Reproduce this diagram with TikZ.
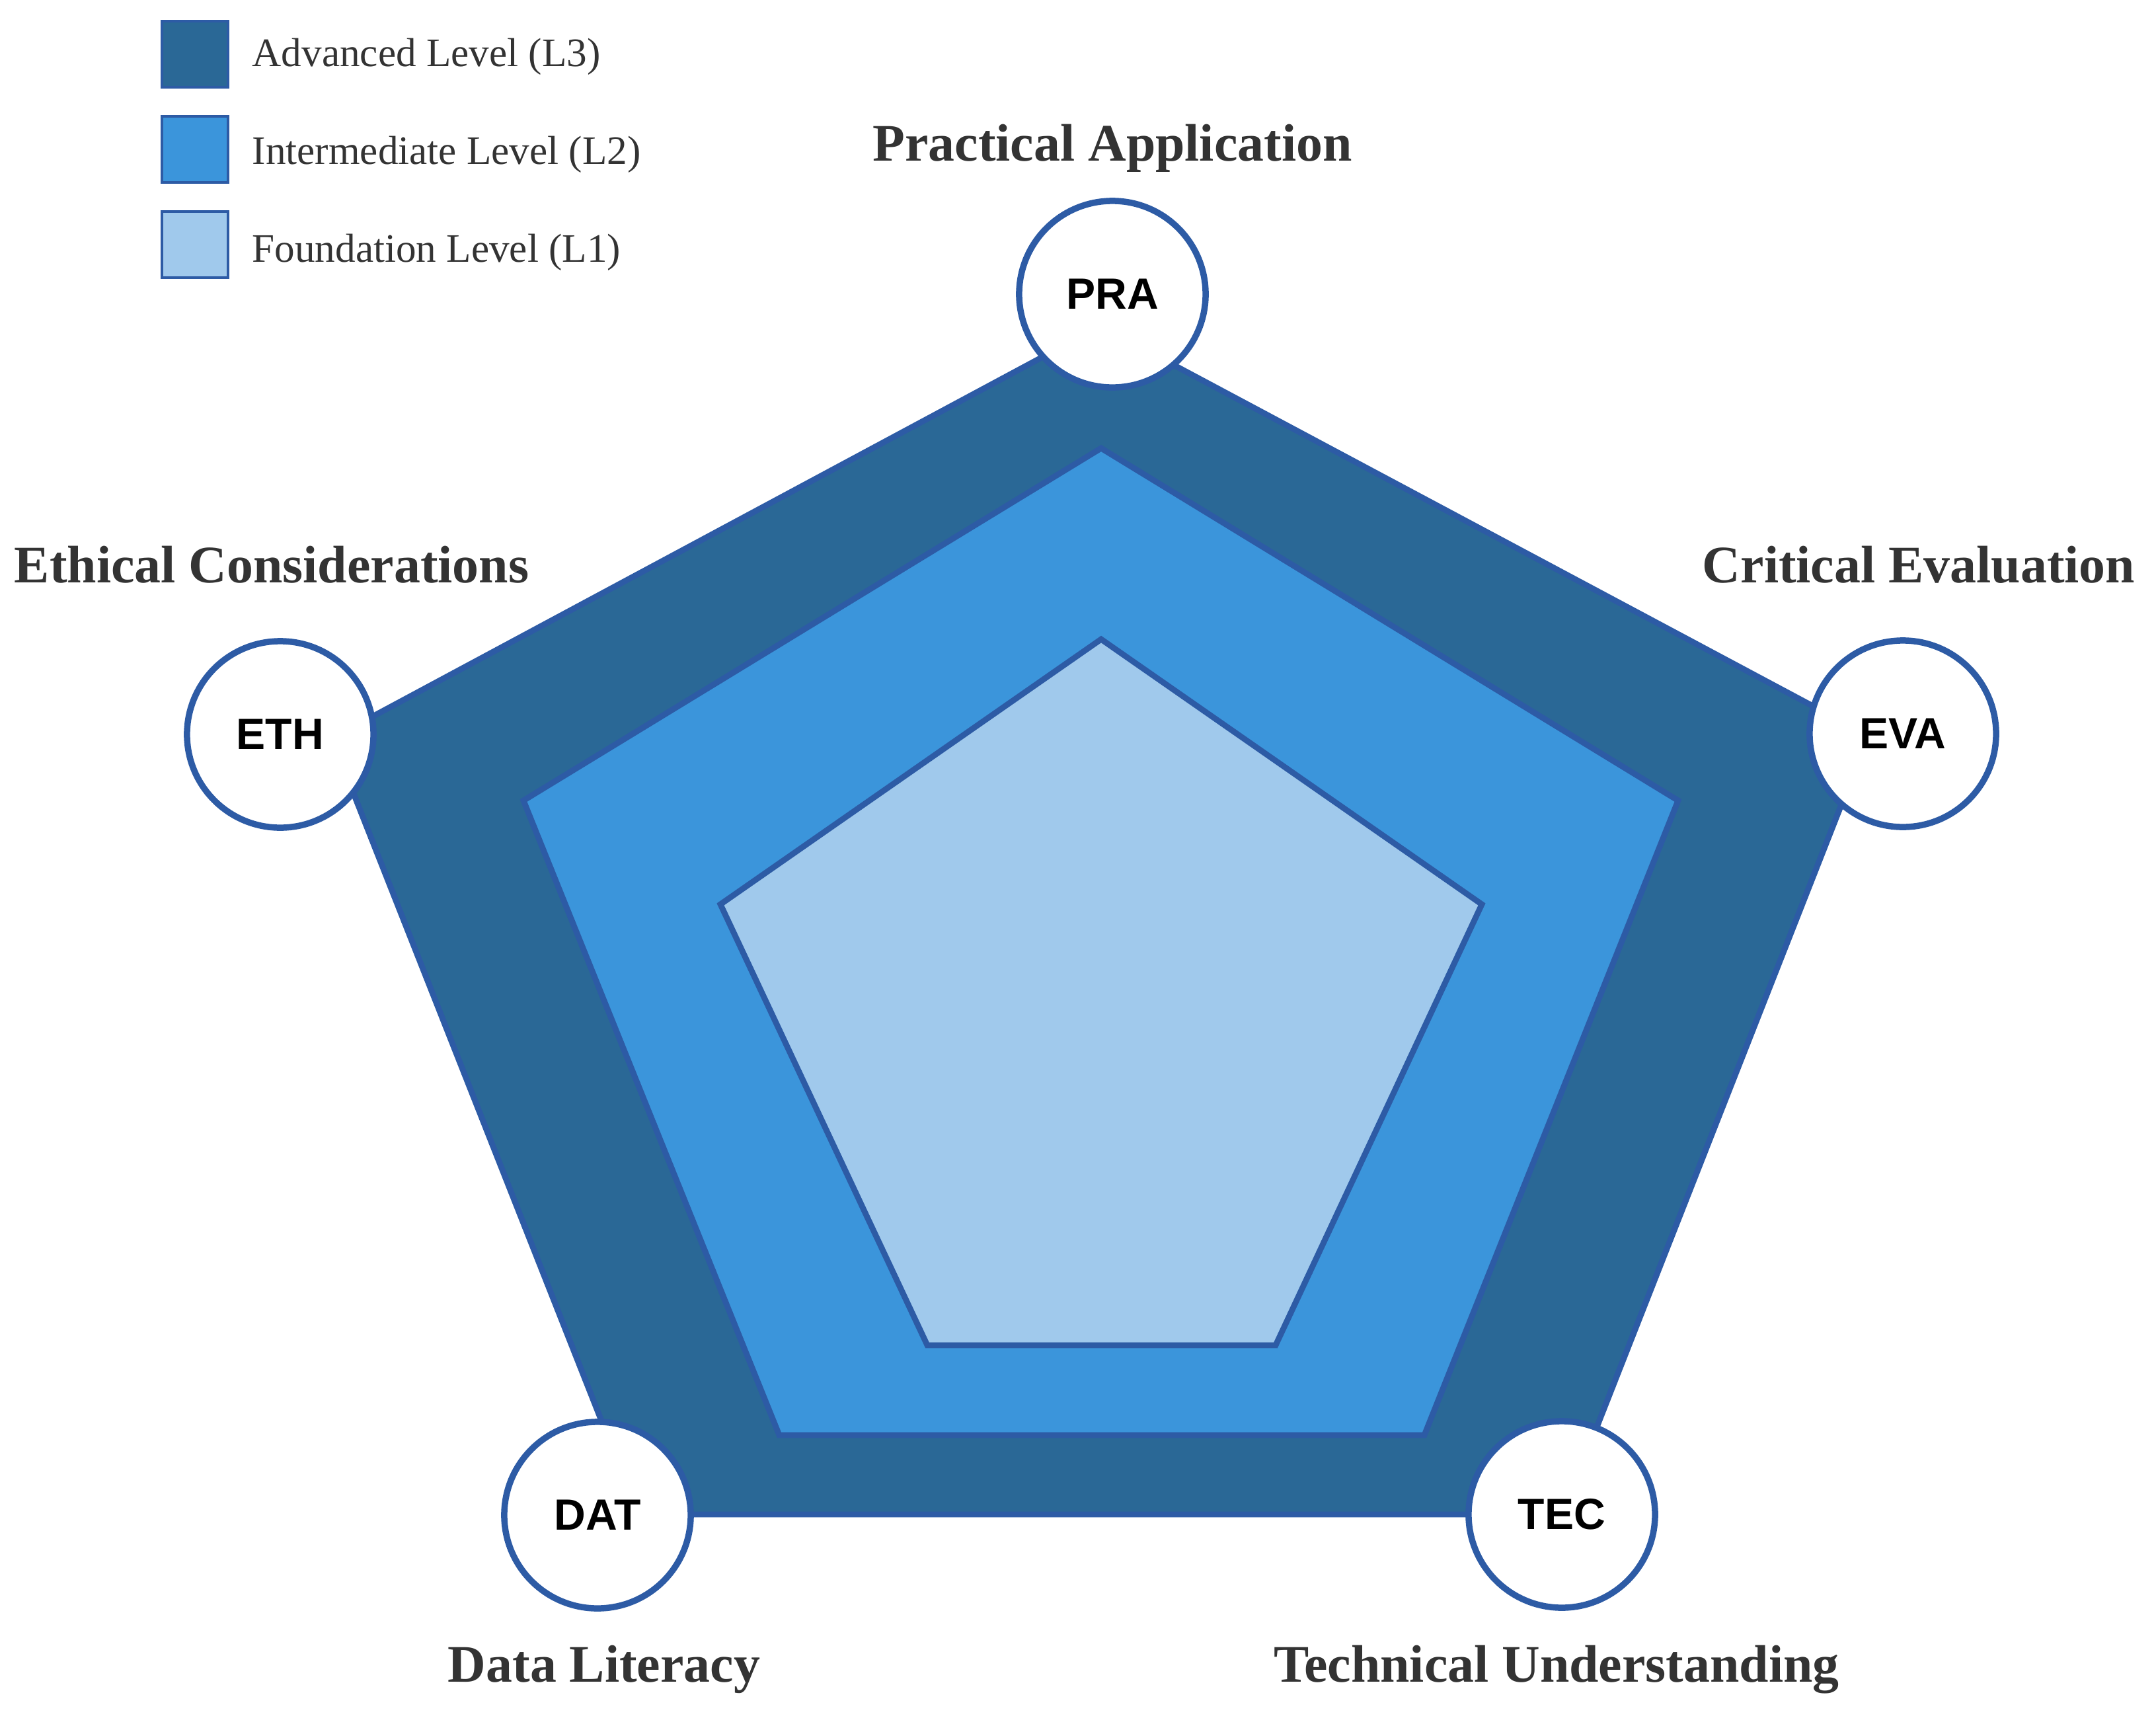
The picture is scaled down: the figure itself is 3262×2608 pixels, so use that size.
\documentclass[tikz,border=0pt]{standalone}
\usepackage{fontspec}
\setmainfont{Liberation Serif}
\newfontfamily\nodesans{Liberation Sans}
\definecolor{lvlthree}{HTML}{2A6896}
\definecolor{lvltwo}{HTML}{3B95DB}
\definecolor{lvlone}{HTML}{A0C9EC}
\definecolor{edgeblue}{HTML}{2D5BA5}
\definecolor{labelgray}{HTML}{333333}
\tikzset{
  levelpoly/.style={draw=edgeblue, line width=2.5pt, line join=miter},
  skill/.style={circle, draw=edgeblue, line width=2.7pt, fill=white, minimum size=2.82cm, inner sep=0pt,
    font=\nodesans\bfseries\fontsize{18.8}{22}\selectfont, text=black},
  axislabel/.style={anchor=base, inner sep=0pt, text=labelgray, font=\bfseries\fontsize{22.7}{27}\selectfont},
  legendbox/.style={draw=edgeblue, line width=1.2pt},
  legendtext/.style={anchor=base west, inner sep=0pt, text=labelgray, font=\fontsize{17.4}{21}\selectfont}
}
\begin{document}
\begin{tikzpicture}[x=0.01cm, y=-0.01cm]
\useasboundingbox (0,0) rectangle (3262,2608);
% level polygons
\draw[levelpoly, fill=lvlthree] (1665,493) -- (2827,1113) -- (2364,2291) -- (966,2291) -- (502,1117) -- cycle;
\draw[levelpoly, fill=lvltwo] (1666,678) -- (2539,1211) -- (2155,2171) -- (1179,2171) -- (792,1211) -- cycle;
\draw[levelpoly, fill=lvlone] (1666,967) -- (2242,1368) -- (1930,2035) -- (1403,2035) -- (1090,1368) -- cycle;
% skill nodes
\node[skill] (pra) at (1683,445) {PRA};
\node[skill] (eva) at (2879,1110) {EVA};
\node[skill] (tec) at (2363,2291) {TEC};
\node[skill] (dat) at (904,2292) {DAT};
\node[skill] (eth) at (424,1111) {ETH};
% axis labels
\node[axislabel] (lpra) at (1683,243) {Practical Application};
\node[axislabel] (leva) at (2903,881) {Critical Evaluation};
\node[axislabel] (leth) at (411,881) {Ethical Considerations};
\node[axislabel] (ldat) at (914,2544) {Data Literacy};
\node[axislabel] (ltec) at (2355,2544) {Technical Understanding};
% legend
\draw[legendbox, fill=lvlthree] (245,32) rectangle (345,132);
\draw[legendbox, fill=lvltwo] (245,176) rectangle (345,276);
\draw[legendbox, fill=lvlone] (245,320) rectangle (345,420);
\node[legendtext] (leg3) at (381,100) {Advanced Level (L3)};
\node[legendtext] (leg2) at (381,248) {Intermediate Level (L2)};
\node[legendtext] (leg1) at (381,396) {Foundation Level (L1)};
\end{tikzpicture}
\end{document}
